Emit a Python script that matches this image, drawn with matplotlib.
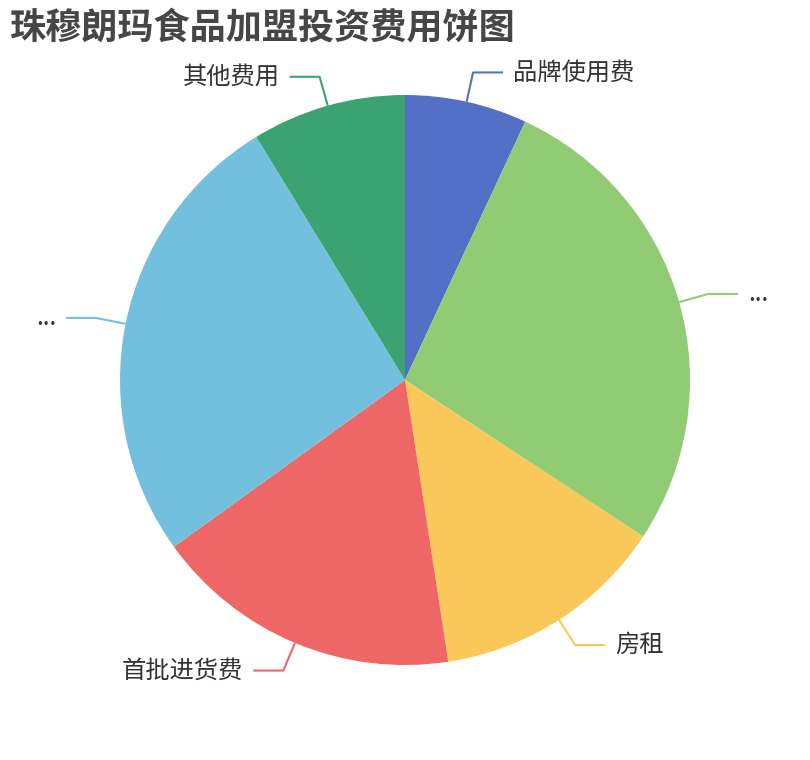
import numpy as np
import matplotlib
matplotlib.use("Agg")
import matplotlib.pyplot as plt

plt.rcParams["font.family"] = ["Noto Sans CJK SC", "DejaVu Sans"]

title = "珠穆朗玛食品加盟投资费用饼图"
names = ["品牌使用费", "...", "房租", "首批进货费", "...", "其他费用"]
values = [5, 19.7, 9.6, 12.6, 18.9, 6.3]
colors = ["#5470c6", "#91cc75", "#fac858", "#ee6666", "#73c0de", "#3ba272"]

W, H = 810, 760
cx, cy, r = 405, 380, 285

fig = plt.figure(figsize=(W / 100, H / 100), dpi=100)
ax = fig.add_axes([0, 0, 1, 1])

wedges, _ = ax.pie(values, colors=colors, startangle=90, counterclock=False,
                   center=(cx, H - cy), radius=r, frame=True,
                   wedgeprops=dict(linewidth=0))
ax.set_xlim(0, W)
ax.set_ylim(0, H)
ax.set_aspect("equal")
ax.axis("off")

# leader lines like echarts: radial piece then horizontal piece
len1, len2, gap = 30, 30, 10
for w, name, c in zip(wedges, names, colors):
    mid = np.deg2rad((w.theta1 + w.theta2) / 2)
    x0 = cx + r * np.cos(mid)
    y0 = (H - cy) + r * np.sin(mid)
    x1 = cx + (r + len1) * np.cos(mid)
    y1 = (H - cy) + (r + len1) * np.sin(mid)
    side = 1 if np.cos(mid) >= 0 else -1
    x2 = x1 + side * len2
    ax.plot([x0, x1, x2], [y0, y1, y1], color=c, lw=1.5, solid_capstyle="butt")
    ax.text(x2 + side * gap, y1, name, fontsize=17.5, color="#333333",
            ha="left" if side > 0 else "right", va="center")

ax.text(10, H - 10, title, fontsize=26, fontweight="bold", color="#464646",
        ha="left", va="top")

fig.savefig("out.png", dpi=100)
